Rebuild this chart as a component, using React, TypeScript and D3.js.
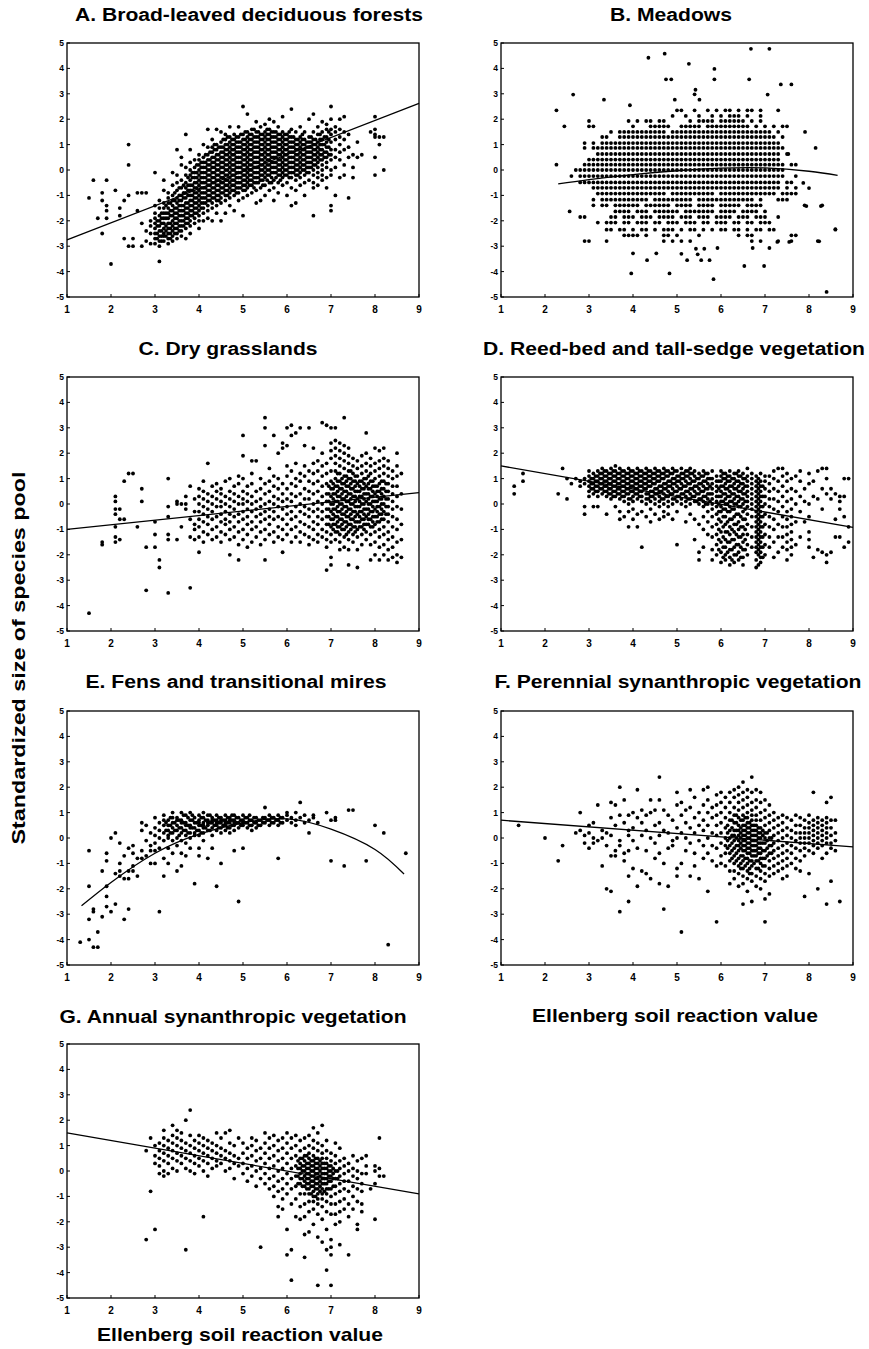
import React from 'react';
import * as d3 from 'd3';

const xTicks = [1, 2, 3, 4, 5, 6, 7, 8, 9];
const yTicks = [5, 4, 3, 2, 1, 0, -1, -2, -3, -4, -5];

// each column: first value = x * 10, the rest = y * 10
const forestCols = [
  [15, -11], [16, -4], [17, -19], [18, -25, -12, -9], [19, -4, -14, -16, -19], [20, -37], [21, -8],
  [22, -15, -18], [23, -12, -27], [24, 10, 2, -10, -30], [25, -27, -30], [26, -9, -16], [27, -30, -9, -21],
  [28, -24, -28, -9], [29, -25, -29, -22, -20],
  [30, -1, -29, -27, -25, -23, -21, -19, -17, -14],
  [31, -30, -28, -26, -24, -22, -20, -18, -15, -12, -36],
  [32, -28, -26, -25, -23, -21, -19, -17, -15, -13, -8, -4],
  [33, -29, -27, -25, -23, -21, -19, -17, -15, -13, -11, -9],
  [34, -28, -26, -24, -22, -20, -18, -16, -14, -12, -10, -6, -1],
  [35, -27, -25, -23, -21, -19, -17, -15, -13, -11, -8, -5, 8, -2],
  [36, -26, -24, -22, -20, -18, -16, -14, -12, -10, -7, -4, 5, 2],
  [37, -27, -23, -21, -19, -17, -15, -13, -11, -9, -7, -5, -2, 14, 1],
  [38, -25, -22, -20, -18, -16, -14, -12, -10, -8, -6, -4, -2, 0, 8, 3],
  [39, -21, -19, -17, -15, -13, -11, -9, -7, -5, -3, -1, 1, 4],
  [40, -23, -20, -18, -16, -14, -12, -10, -8, -6, -4, -2, 0, 2, 4, 6],
  [41, -20, -17, -15, -13, -11, -9, -7, -5, -3, -1, 1, 3, 5, 10],
  [42, -19, -16, -14, -12, -10, -8, -6, -4, -2, 0, 2, 4, 6, 16, 9],
  [43, -20, -15, -13, -11, -9, -7, -5, -3, -1, 1, 3, 5, 7, 9, 12],
  [44, -17, -14, -12, -10, -8, -6, -4, -2, 0, 2, 4, 6, 8, 10, 16],
  [45, -20, -13, -11, -9, -7, -5, -3, -1, 1, 3, 5, 7, 9, 11, 15],
  [46, -17, -12, -10, -8, -6, -4, -2, 0, 2, 4, 6, 8, 10, 12, 14],
  [47, -14, -11, -9, -7, -5, -3, -1, 1, 3, 5, 7, 9, 11, 13, 17],
  [48, -16, -10, -8, -6, -4, -2, 0, 2, 4, 6, 8, 10, 12, 14],
  [49, -12, -9, -7, -5, -3, -1, 1, 3, 5, 7, 9, 11, 13, 17],
  [50, -18, -11, -8, -6, -4, -2, 0, 2, 4, 6, 8, 10, 12, 14, 25],
  [51, -10, -7, -5, -3, -1, 1, 3, 5, 7, 9, 11, 13, 15, 22],
  [52, -9, -6, -4, -2, 0, 2, 4, 6, 8, 10, 12, 14, 16],
  [53, -13, -8, -5, -3, -1, 1, 3, 5, 7, 9, 11, 13, 15, 19],
  [54, -12, -7, -4, -2, 0, 2, 4, 6, 8, 10, 12, 14, 17],
  [55, -10, -6, -3, -1, 1, 3, 5, 7, 9, 11, 13, 15, 18],
  [56, -8, -5, -2, 0, 2, 4, 6, 8, 10, 12, 14, 16, 20],
  [57, -12, -7, -4, -1, 1, 3, 5, 7, 9, 11, 13, 15, 19],
  [58, -9, -5, -2, 0, 2, 4, 6, 8, 10, 12, 14, 17],
  [59, -6, -3, -1, 1, 3, 5, 7, 9, 11, 13, 15, 21],
  [60, -10, -5, -2, 0, 2, 4, 6, 8, 10, 12, 14],
  [61, -14, -7, -3, -1, 1, 3, 5, 7, 9, 11, 13, 16, 24],
  [62, -13, -8, -4, -2, 0, 2, 4, 6, 8, 10, 12, 15],
  [63, -6, -3, -1, 1, 3, 5, 7, 9, 11, 13, 17],
  [64, -10, -5, -2, 0, 2, 4, 6, 8, 10, 12, 15],
  [65, -4, -1, 1, 3, 5, 7, 9, 11, 13, 20],
  [66, -18, -7, -5, -2, 0, 2, 4, 6, 8, 10, 12, 15, 22],
  [67, -6, -3, -1, 1, 3, 5, 7, 9, 11, 14, 17],
  [68, -4, -2, 0, 2, 4, 6, 8, 10, 12, 15, 19],
  [69, -7, -3, 1, 3, 5, 7, 9, 11, 13, 16, 18],
  [70, -14, -16, -2, 0, 4, 6, 8, 11, 14, 16, 20, 25],
  [71, -10, 1, 5, 8, 12, 15, 17],
  [72, -3, 4, 7, 10, 13, 16, 20],
  [73, -2, 2, 8, 12, 15, 21],
  [74, -11, 5, 9, 14], [75, -3, 1, 6], [76, 11, 5], [77, 6], [79, 15],
  [80, 21, 16, 14, 13, 5, -2], [81, 10, 13], [82, 0, 13],
];

// the solid black part of the forest cloud, between the columns above
const forestCore = [
  [30.5, -27, -25, -22, -20], [31.5, -28, -26, -24, -21, -19, -17], [32.5, -26, -24, -22, -19, -17, -14],
  [33.5, -27, -25, -23, -21, -18, -16, -13], [34.5, -25, -23, -21, -19, -17, -15, -12, -9],
  [35.5, -24, -22, -20, -18, -16, -14, -12, -10, -7], [36.5, -22, -20, -18, -16, -14, -11, -9, -6],
  [37.5, -21, -19, -17, -15, -13, -10, -8, -6, -3], [38.5, -18, -16, -14, -12, -10, -8, -6, -3, -1],
  [39.5, -17, -15, -13, -11, -9, -7, -5, -3, -1, 2], [40.5, -15, -13, -11, -9, -7, -5, -3, -1, 1, 3],
  [41.5, -13, -11, -9, -7, -5, -3, -1, 1, 3, 6], [42.5, -12, -10, -8, -6, -4, -2, 0, 2, 4, 7],
  [43.5, -11, -9, -7, -5, -3, -1, 1, 3, 5, 8, 10], [44.5, -12, -10, -8, -6, -4, -2, 0, 2, 4, 6, 9],
  [45.5, -9, -7, -5, -3, -1, 1, 3, 5, 7, 9, 12], [46.5, -10, -8, -6, -4, -2, 0, 2, 4, 6, 8, 10, 13],
  [47.5, -8, -6, -4, -2, 0, 2, 4, 6, 8, 10, 12], [48.5, -9, -7, -5, -3, -1, 1, 3, 5, 7, 9, 11, 13],
  [49.5, -7, -5, -3, -1, 1, 3, 5, 7, 9, 11, 14], [50.5, -8, -6, -4, -2, 0, 2, 4, 6, 8, 10, 12, 15],
  [51.5, -6, -4, -2, 0, 2, 4, 6, 8, 10, 12, 14], [52.5, -7, -5, -3, -1, 1, 3, 5, 7, 9, 11, 13, 16],
  [53.5, -5, -3, -1, 1, 3, 5, 7, 9, 11, 13, 15], [54.5, -6, -4, -2, 0, 2, 4, 6, 8, 10, 12, 14],
  [55.5, -4, -2, 0, 2, 4, 6, 8, 10, 12, 14, 16], [56.5, -5, -3, -1, 1, 3, 5, 7, 9, 11, 13, 15],
  [57.5, -3, -1, 1, 3, 5, 7, 9, 11, 13, 15], [58.5, -4, -2, 0, 2, 4, 6, 8, 10, 12, 14],
  [59.5, -2, 0, 2, 4, 6, 8, 10, 12, 14], [60.5, -3, -1, 1, 3, 5, 7, 9, 11, 13, 15],
  [61.5, -1, 1, 3, 5, 7, 9, 11, 13], [62.5, -2, 0, 2, 4, 6, 8, 10, 12], [63.5, 0, 2, 4, 6, 8, 10, 12, 14],
  [64.5, -1, 1, 3, 5, 7, 9, 11], [65.5, 1, 3, 5, 7, 9, 11, 13], [66.5, 2, 4, 6, 8, 10, 12],
  [67.5, 4, 6, 8, 10, 12, 14], [68.5, 5, 7, 10, 13], [69.5, 6, 9, 12, 15],
];

// each row: first value = y * 100, the rest = x * 10
const meadowRows = [
  [235, 50, 51, 54, 57, 59, 61, 62, 64, 66, 67, 69, 73],
  [213, 49, 52, 55, 58, 60, 62, 63, 64, 66, 69],
  [193, 30, 39, 41, 43, 44, 46, 47, 53, 55, 56, 57, 58, 60, 61, 62, 63, 64, 65, 67, 69],
  [172, 30, 31, 40, 44, 45, 46, 47, 48, 51, 52, 53, 54, 55, 57, 58, 59, 60, 61, 62, 63, 64, 65, 66, 68, 70, 72, 74, 75],
  [150, 35, 37, 38, 39, 40, 41, 42, 43, 44, 45, 46, 47, 49, 50, 51, 52, 53, 54, 55, 56, 57, 58, 59, 60, 61, 62, 63, 64, 65, 66, 67, 68, 69, 70, 71, 73],
  [130, 33, 34, 37, 38, 39, 40, 41, 42, 43, 44, 45, 46, 47, 48, 49, 50, 51, 52, 53, 54, 55, 56, 57, 58, 59, 60, 61, 62, 63, 64, 65, 66, 67, 68, 69, 70, 71, 72, 74],
  [106, 29, 31, 33, 34, 35, 36, 37, 38, 39, 40, 41, 42, 43, 44, 45, 46, 47, 48, 49, 50, 51, 52, 53, 54, 55, 56, 57, 58, 59, 60, 61, 62, 63, 64, 65, 66, 67, 68, 69, 70, 71, 72, 73],
  [87, 29, 31, 32, 33, 34, 35, 36, 37, 38, 39, 40, 41, 42, 43, 44, 45, 46, 47, 48, 49, 50, 51, 52, 53, 54, 55, 56, 57, 58, 59, 60, 61, 62, 63, 64, 65, 66, 67, 68, 69, 70, 71, 72, 73, 74],
  [63, 32, 33, 34, 35, 36, 37, 38, 39, 40, 41, 42, 43, 44, 45, 46, 47, 48, 49, 50, 51, 52, 53, 54, 55, 56, 57, 58, 59, 60, 61, 62, 63, 64, 65, 66, 67, 68, 69, 70, 71, 72, 73, 75],
  [41, 30, 31, 32, 33, 34, 35, 36, 37, 38, 39, 40, 41, 42, 43, 44, 45, 46, 47, 48, 49, 50, 51, 52, 53, 54, 55, 56, 57, 58, 59, 60, 61, 62, 63, 64, 65, 66, 67, 68, 69, 70, 71, 72, 73],
  [21, 29, 30, 31, 32, 33, 34, 35, 36, 37, 38, 39, 40, 41, 42, 43, 44, 45, 46, 47, 48, 49, 50, 51, 52, 53, 54, 55, 56, 57, 58, 59, 60, 61, 62, 63, 64, 65, 66, 67, 68, 69, 70, 71, 72, 73, 74, 76, 77],
  [0, 27, 28, 29, 30, 31, 32, 33, 34, 35, 36, 37, 38, 39, 40, 41, 42, 43, 44, 45, 46, 47, 48, 49, 50, 51, 52, 53, 54, 55, 56, 57, 58, 59, 60, 61, 62, 63, 64, 65, 66, 67, 68, 69, 70, 71, 72, 73, 74],
  [-24, 26, 28, 29, 30, 31, 32, 33, 34, 35, 36, 37, 38, 39, 40, 41, 42, 43, 44, 45, 46, 47, 48, 49, 50, 51, 52, 53, 54, 55, 56, 57, 58, 59, 60, 61, 62, 63, 64, 65, 66, 67, 68, 69, 70, 71, 72, 73, 74, 77],
  [-49, 28, 29, 30, 31, 32, 33, 34, 35, 36, 37, 38, 39, 40, 41, 42, 43, 44, 45, 46, 47, 48, 49, 50, 51, 52, 53, 54, 55, 56, 57, 58, 59, 60, 61, 62, 63, 64, 65, 66, 67, 68, 69, 70, 71, 72, 73, 75, 76],
  [-70, 31, 32, 33, 34, 35, 36, 37, 38, 39, 40, 41, 42, 43, 44, 45, 46, 47, 48, 49, 50, 51, 52, 53, 54, 55, 56, 57, 58, 59, 60, 61, 62, 63, 64, 65, 66, 67, 68, 69, 70, 71, 72, 73, 75, 77],
  [-93, 32, 33, 34, 35, 36, 37, 38, 39, 40, 41, 42, 43, 44, 45, 46, 47, 49, 50, 51, 52, 53, 54, 55, 56, 57, 58, 60, 61, 62, 63, 64, 65, 66, 67, 68, 69, 70, 71, 72, 74, 75, 76, 77],
  [-117, 31, 33, 34, 35, 36, 37, 38, 39, 40, 41, 42, 43, 45, 46, 47, 48, 49, 50, 51, 52, 53, 55, 56, 57, 58, 59, 60, 61, 62, 63, 64, 65, 66, 67, 69, 73, 74, 75],
  [-139, 31, 33, 34, 36, 37, 38, 39, 40, 41, 43, 44, 45, 46, 47, 48, 50, 51, 52, 53, 55, 56, 57, 58, 60, 61, 62, 63, 64, 66, 67, 68, 69, 79, 83],
  [-163, 36, 37, 38, 39, 41, 42, 43, 45, 46, 47, 48, 49, 50, 52, 53, 54, 55, 56, 57, 58, 60, 61, 62, 63, 65, 66, 67, 68, 70],
  [-185, 28, 29, 35, 36, 38, 39, 40, 42, 43, 44, 46, 47, 48, 49, 51, 52, 53, 55, 56, 57, 59, 60, 61, 62, 64, 65, 66, 68, 69, 70, 73],
  [-207, 32, 34, 35, 36, 38, 39, 41, 42, 43, 45, 46, 48, 49, 50, 52, 53, 54, 56, 57, 59, 60, 61, 63, 64, 66, 67, 69, 70, 71],
  [-235, 34, 35, 37, 38, 40, 42, 43, 45, 47, 48, 49, 51, 53, 54, 56, 58, 60, 61, 63, 64, 66, 68, 69, 71, 72, 86],
  [-257, 38, 39, 40, 41, 43, 47, 48, 50, 55, 64, 66, 67, 76, 77],
  [-280, 29, 30, 34, 47, 49, 51, 53, 67, 69, 73, 76, 82],
];

const meadowExtra = [
  [2.26, 2.35], [2.44, 1.72], [2.64, 2.97], [3.34, 2.77], [3.93, 2.55], [2.26, 0.21], [2.56, -1.63],
  [4.35, 4.42], [4.72, 4.58], [4.75, 3.57], [4.87, 3.57], [4.95, 2.77], [5.27, 4.18], [5.42, 3.16],
  [5.4, 2.98], [5.51, 2.77], [5.85, 3.98], [5.85, 3.57], [6.68, 4.77], [7.1, 4.77], [6.64, 3.57],
  [7.06, 2.97], [7.36, 3.37], [7.6, 3.37], [7.91, 1.5], [8.15, 0.87], [7.53, 0.63], [7.87, -0.51],
  [8.0, -0.71], [7.94, -1.42], [8.27, -1.42], [8.23, -2.81], [8.6, -2.33], [8.4, -4.8], [4.0, -3.28],
  [3.96, -4.07], [4.32, -3.55], [4.53, -3.28], [4.83, -4.07], [5.1, -3.3], [5.23, -3.55], [5.43, -3.1],
  [5.47, -3.32], [5.62, -3.1], [5.55, -3.55], [5.74, -3.55], [5.92, -3.07], [5.83, -4.3], [6.53, -3.78],
  [6.72, -3.07], [6.98, -3.78], [7.1, -3.07], [7.28, -2.83], [7.55, -2.83],
];

const dryCols = [
  [15, -43], [18, -16, -15], [21, 3, 1, -2, -4, -13, -15, -9], [22, -14, -2, -6], [23, -6, 9], [24, 12], [25, 12],
  [26, -9], [27, 1, 6], [28, -17, -34], [30, -17, -12, -7], [31, -22, -25], [33, -35, -12, -14, -1, 10, -5],
  [35, 1, 0, -14], [36, 0, -9], [37, 0, 3, -2], [38, -33, 7, -13, -6], [39, 2, -3, -8, -14, -10],
  [40, -19, -13, -9, -6, -3, 0, 3, 6], [41, -15, -11, -7, -4, -1, 2, 5, 9], [42, -12, -8, -5, -2, 1, 4, 16],
  [43, -14, -10, -6, -3, 0, 3, 7], [44, -13, -9, -5, -1, 2, 5, 8], [45, -15, -11, -7, -4, -1, 1, 4, 6],
  [46, -12, -8, -6, -3, 0, 3, 9], [47, -20, -14, -10, -7, -4, -1, 2, 5, 10], [48, -13, -9, -5, -2, 1, 4, 7],
  [49, -22, -16, -11, -7, -4, 0, 3, 8, 11], [50, -14, -10, -6, -3, 0, 2, 5, 10, 19, 27],
  [51, -17, -12, -8, -5, -2, 1, 4, 7], [52, -15, -10, -7, -3, 0, 3, 8, 12, 17], [53, -13, -9, -5, -2, 1, 5, 17],
  [54, -16, -11, -7, -4, -1, 2, 6, 10], [55, -22, -14, -10, -6, -3, 0, 4, 8, 23, 34, 30],
  [56, -12, -8, -5, -2, 1, 5, 9, 14], [57, -15, -11, -6, -3, 0, 3, 7, 11, 27], [58, -13, -9, -5, -1, 2, 6, 10, 20],
  [59, -19, -14, -10, -6, -2, 1, 4, 8, 24, 22], [60, -12, -8, -4, -1, 2, 6, 11, 15, 30, 23],
  [61, -15, -10, -6, -3, 1, 4, 8, 13, 31, 27], [62, -13, -9, -5, -1, 3, 7, 10, 16, 28],
  [63, -15, -11, -7, -3, 0, 4, 9, 12, 30], [64, -12, -8, -4, -1, 2, 6, 11, 15, 23],
  [65, -16, -13, -9, -5, -2, 2, 5, 9, 13, 30], [66, -14, -10, -7, -3, 0, 4, 8, 12, 16, 22],
  [67, -15, -12, -8, -5, -2, 1, 5, 9, 13, 17], [68, -13, -10, -6, -3, 0, 3, 7, 11, 15, 20, 32],
  [69, -26, -17, -14, -11, -8, -5, -2, 1, 4, 8, 12, 16, 31],
  [70, -24, -21, -15, -12, -9, -6, -3, 0, 3, 6, 9, 13, 18, 21, 24, 30],
  [71, -14, -11, -8, -5, -2, 1, 4, 7, 10, 13, 16, 19, 22, 25, 30],
  [72, -18, -15, -12, -9, -6, -3, 0, 3, 6, 9, 12, 15, 18, 21, 24],
  [73, -17, -13, -10, -7, -4, -1, 2, 5, 8, 11, 14, 17, 20, 23, 34],
  [74, -24, -18, -14, -11, -8, -5, -2, 1, 4, 7, 10, 13, 16, 19, 22],
  [75, -15, -12, -9, -6, -3, 0, 3, 6, 9, 12, 15, 18], [76, -25, -18, -13, -10, -7, -4, -1, 2, 5, 8, 11, 14, 17],
  [77, -16, -12, -9, -6, -3, 0, 3, 6, 9, 12, 15, 19], [78, -14, -11, -8, -5, -2, 1, 4, 7, 10, 13, 16, 20, 28],
  [79, -22, -16, -12, -9, -6, -3, 0, 3, 6, 9, 12, 15, 18], [80, -20, -15, -11, -8, -5, -2, 1, 4, 7, 10, 13, 16, 22],
  [81, -22, -17, -13, -10, -7, -4, -1, 2, 5, 8, 11, 14, 17, 21],
  [82, -20, -16, -12, -9, -6, -3, 0, 3, 6, 9, 12, 15, 18, 22],
  [83, -22, -18, -14, -11, -7, -4, -1, 2, 5, 8, 11, 14, 17], [84, -21, -17, -13, -9, -5, -2, 1, 4, 7, 10, 13],
  [85, -23, -20, -15, -10, -6, -1, 3, 7, 11, 15, 20], [86, -21, -14, -8, -2, 4, 12],
];

const dryCore = [
  [69.5, -8, -5, -2, 1, 4, 7], [70.5, -10, -8, -6, -4, -2, 0, 2, 4, 6, 8],
  [71.5, -11, -9, -7, -5, -3, -1, 1, 3, 5, 7, 9, 12], [72.5, -10, -8, -6, -4, -2, 0, 2, 4, 6, 8, 10],
  [73.5, -12, -9, -7, -5, -3, -1, 1, 3, 5, 7, 9, 11], [74.5, -10, -8, -6, -4, -2, 0, 2, 4, 6, 8, 10, 13],
  [75.5, -11, -9, -7, -5, -3, -1, 1, 3, 5, 7, 9, 11], [76.5, -9, -7, -5, -3, -1, 1, 3, 5, 7, 9],
  [77.5, -10, -8, -6, -4, -2, 0, 2, 4, 6, 8, 10], [78.5, -8, -6, -4, -2, 0, 2, 4, 6, 8, 11],
  [79.5, -9, -7, -5, -3, -1, 1, 3, 5, 7, 9], [80.5, -7, -5, -3, -1, 1, 3, 5, 7],
  [81.5, -6, -4, -2, 0, 2, 4, 6, 9], [82.5, -4, -1, 2, 5, 8],
];

const reedCols = [
  [13, 7, 4], [15, 12, 9], [23, 4], [24, 14], [25, 2, 10], [26, 8], [27, 10], [28, 9, 7], [29, 10, 8, -1, -4],
  [30, 3, 5, 7, 9, 11, 13], [31, 4, 6, 8, 10, 12, -1], [32, 3, 5, 7, 9, 11, 13, -1], [33, 4, 6, 8, 10, 12, 14],
  [34, 3, 5, 7, 9, 11, 13, -4], [35, 2, 4, 6, 8, 10, 12, 14], [36, 3, 5, 7, 9, 11, 13, 15, -1],
  [37, 2, 4, 6, 8, 10, 12, 14, -3, -6], [38, 1, 3, 5, 7, 9, 11, 13, -5], [39, 0, 2, 4, 6, 8, 10, 12, 14, -3, -9],
  [40, 1, 3, 5, 7, 9, 11, 13, -2, -6], [41, 2, 4, 6, 8, 10, 12, 14, -9, -4], [42, 1, 3, 5, 7, 9, 11, 13, -3, -17],
  [43, 0, 2, 4, 6, 8, 10, 12, 14, -5], [44, 1, 3, 5, 7, 9, 11, 13, -2, -7], [45, 0, 2, 4, 6, 8, 10, 12, 14, -4],
  [46, 1, 3, 5, 7, 9, 11, 13, -1, -6], [47, 0, 2, 4, 6, 8, 10, 12, 14, -3, -5], [48, -1, 1, 3, 5, 7, 9, 11, 13, -4],
  [49, 0, 2, 4, 6, 8, 10, 12, 14, -6], [50, 1, 3, 5, 7, 9, 11, 13, -16, -3], [51, 0, 2, 4, 6, 8, 10, 12, 14],
  [52, -1, 1, 3, 5, 7, 9, 11, 13, -7], [53, 0, 2, 4, 6, 8, 10, 12, 14, -4], [54, 1, 3, 5, 7, 9, 11, 13, -6, -14],
  [55, 0, 2, 4, 6, 8, 10, 12, -8, -22, -19], [56, -1, 1, 3, 5, 7, 9, 11, 13, -5, -10, -17],
  [57, 0, 2, 4, 6, 8, 10, 12, -3, -7, -12],
  [58, -22, -18, -13, -9, -5, -2, 0, 2, 4, 6, 8, 10, 13],
  [59, -20, -16, -12, -8, -4, -1, 1, 3, 5, 7, 9, 11],
  [60, -23, -19, -15, -11, -7, -3, -1, 1, 3, 5, 7, 9, 11, 13],
  [61, -22, -20, -17, -14, -11, -8, -5, -2, 0, 2, 4, 6, 8, 10, 12],
  [62, -24, -21, -18, -15, -12, -9, -6, -3, -1, 1, 3, 5, 7, 9, 11, 13],
  [63, -23, -20, -17, -14, -11, -8, -5, -2, 0, 2, 4, 6, 8, 10, 12],
  [64, -22, -19, -16, -13, -10, -7, -4, -1, 1, 3, 5, 7, 9, 11, 13],
  [65, -24, -21, -18, -15, -12, -9, -6, -3, 0, 2, 4, 6, 8, 10, 12],
  [66, -20, -16, -12, -8, -4, -1, 1, 3, 5, 7, 9, 11, 14],
  [67, -17, -13, -9, -5, -2, 0, 2, 4, 6, 8, 10, 12],
  [68, -25, -22, -19, -17, -15, -13, -11, -9, -7, -5, -3, -1, 1, 3, 5, 7, 9, 11],
  [69, -23, -21, -19, -17, -15, -13, -11, -9, -7, -5, -3, -1, 1, 3, 5, 7, 9, 12],
  [70, -20, -16, -12, -8, -4, 0, 3, 6, 9, 11], [71, -17, -13, -9, -5, -1, 2, 5, 8, 11],
  [72, -21, -15, -10, -6, -2, 2, 6, 10, 13], [73, -19, -13, -8, -3, 1, 5, 9, 14],
  [74, -17, -13, -9, -5, -1, 3, 7, 11, 14], [75, -22, -18, -15, -12, -9, -6, -3, 1, 5, 9, 12],
  [76, -20, -17, -14, -11, -8, -5, -2, 2, 6, 10], [77, -16, -7, 0, 5, 11], [78, -13, -3, 3, 9, 13],
  [79, -7, 1, 6], [80, -17, -14, -11, -5, 0, 8, 12], [81, -21, 3, 9], [82, -18, 2, 13], [83, -19, -2, 6, 14],
  [84, -23, -20, 4, 10, 14], [85, -19, 2, 6], [86, -13, -6, 4], [87, -13, -2, 1, 3], [88, -17, -5, 3, 10],
  [89, -15, -9, 10],
];

const reedCore = [
  [30.5, 6, 8, 10], [31.5, 5, 7, 9, 11], [32.5, 6, 8, 10, 12], [33.5, 5, 7, 9, 11, 13], [34.5, 4, 6, 8, 10, 12],
  [35.5, 3, 5, 7, 9, 11, 13], [36.5, 4, 6, 8, 10, 12], [37.5, 3, 5, 7, 9, 11, 13], [38.5, 4, 6, 8, 10, 12],
  [39.5, 2, 5, 7, 9, 11, 13], [40.5, 4, 6, 8, 10, 12], [41.5, 3, 5, 7, 9, 11, 13], [42.5, 6, 8, 10, 12],
  [43.5, 2, 4, 7, 9, 11, 13], [44.5, 3, 5, 8, 10, 12], [45.5, 4, 6, 9, 11, 13], [46.5, 2, 5, 7, 10, 12],
  [47.5, 3, 6, 8, 11, 13], [48.5, 4, 7, 9, 12], [49.5, 2, 5, 8, 10, 13], [50.5, 3, 6, 9, 11], [51.5, 4, 7, 10, 12],
  [52.5, 2, 5, 8, 11, 13], [53.5, 3, 6, 9, 12], [54.5, 1, 4, 7, 10], [55.5, 2, 5, 8, 11], [56.5, 0, 3, 6, 9, 12],
  [57.5, 1, 4, 7, 10],
  [59.5, -18, -14, -10, -6, -3, 0, 3, 6, 9], [60.5, -21, -17, -13, -9, -5, -2, 1, 4, 7, 10, 12],
  [61.5, -19, -15, -11, -7, -3, 0, 3, 6, 9, 11], [62.5, -22, -18, -14, -10, -6, -2, 1, 4, 7, 10],
  [63.5, -20, -16, -12, -8, -4, 0, 3, 6, 9, 12], [64.5, -21, -17, -13, -9, -5, -1, 2, 5, 8, 11],
  [65.5, -18, -14, -10, -6, -2, 1, 4, 7, 10],
  [68.5, -24, -20, -18, -16, -14, -12, -10, -8, -6, -4, -2, 0, 2, 4, 6, 8, 10],
  [69.5, -21, -17, -13, -9, -5, -1, 3, 7],
];

const fenCols = [
  [13, -41], [15, -5, -19, -32, -40], [16, -28, -29, -43], [17, -37, -43], [18, -13, -31], [19, -6, -9, -19, -23, -27],
  [20, 0, -29], [21, 2, -14, -26], [22, -2, -10, -13, -15], [23, -7, -16, -32], [24, -4, -13, -16, -28],
  [25, -3, -6, -13, -11], [26, -15, -8], [27, 3, 6, -8, -5], [28, -7, -1, 5], [29, 2, -3, -10, -5],
  [30, 8, 4, 1, -2, -5, -10], [31, -29, 3, 6, 0, -4], [32, 9, 5, 2, -1, -15, -8, 7], [33, 7, 3, 0, -10, -4, 1, 5],
  [34, 10, 6, 4, 2, -1, -6, 8], [35, 8, 5, 3, 0, -3, -13, 7], [36, 10, 7, 4, 2, -1, -11, -6, 6],
  [37, 9, 6, 3, 1, -7, -2, 5], [38, 10, 7, 5, 2, 0, -4, 4], [39, 8, 6, 4, 1, -18, 2], [40, 9, 7, 5, 3, 1, -7, -4, 6],
  [41, 10, 8, 6, 4, 2, -1, 5], [42, 9, 7, 5, 3, -8, 6], [43, 8, 6, 4, 1, -4, 7], [44, 9, 7, 5, 3, -19, 6],
  [45, 8, 6, 4, 2, -10, 7], [46, 9, 7, 5, 3, 6], [47, 8, 6, 4, 2, 7], [48, 9, 7, 5, 3, -5, 6], [49, 8, 6, 4, -25],
  [50, 9, 7, 5, -4, 6], [51, 8, 6, 4], [52, 7, 5, 3], [53, 8, 6, 4], [54, 7, 5], [55, 8, 6, 12], [56, 9, 7, 5],
  [57, 8, 6], [58, 9, 7, 5, -8], [59, 8, 6], [60, 9, 7, 10], [61, 8, 6], [62, 10, 7, 5], [63, 14, 8], [64, 6, 9],
  [65, 7, 2], [66, 9, 8], [67, 6], [69, 10], [70, 7, -9], [71, 8, 7], [73, -11], [74, 11], [75, 11], [78, -9],
  [80, 5], [82, 2], [83, -42], [87, -6],
];

const fenCore = [
  [32.5, 3, 6], [33.5, 2, 5, 8], [34.5, 3, 6], [35.5, 1, 4, 7], [36.5, 3, 6, 9], [37.5, 2, 5, 8], [38.5, 4, 7, 9],
  [39.5, 3, 6], [40.5, 2, 5, 8], [41.5, 4, 7], [42.5, 3, 6, 9], [43.5, 5, 7], [44.5, 4, 6, 8], [45.5, 5, 7],
  [46.5, 4, 6, 8], [47.5, 5, 7, 9], [48.5, 6, 8], [49.5, 5, 7], [50.5, 6, 8], [51.5, 5, 7, 9], [52.5, 6, 8],
  [53.5, 7, 5], [54.5, 6, 8], [55.5, 7], [56.5, 6, 8], [57.5, 7], [58.5, 8, 6],
];

const perennialCols = [
  [14, 5], [20, 0], [23, -9], [24, -3], [27, 2], [28, 10, 3], [29, 1, -2], [30, -4, 5, 2], [31, 0, 6, -2],
  [32, 13, -1], [33, -11, 3, 0], [34, -20, 2, -3], [35, -21, 14, 8, 1, -7], [36, 13, 5, -5, -7],
  [37, 20, -29, 9, -1, -3], [38, 15, 6, -6, -9], [39, -25, -15, 9, 3, -5, 1], [40, 10, 4, -1, -12],
  [41, 19, 8, -19, -4], [42, 11, 6, 1, -13], [43, 9, 3, -5, -14], [44, 15, 10, 0, -16], [45, 11, 5, -2, -8],
  [46, 24, 15, 6, 1, -6, -18], [47, 11, 3, -28, -10], [48, 9, 2, -4, -19], [49, 7, -1, -3],
  [50, 18, 13, 4, 0, -12, -15], [51, 14, 9, 2, -37, -10], [52, 11, 6, 0, -5], [53, 19, 12, 4, -2, -15],
  [54, 16, 8, 2, -6, -11], [55, 10, 5, -1, -16], [56, 19, 13, 7, 3, -3, -8], [57, 20, 15, 10, 5, 0, -6, -21],
  [58, 12, 8, 2, -3, -9], [59, 17, 13, 9, 5, 1, -4, -11, -33], [60, 18, 14, 10, 6, 2, -2, -7, -10],
  [61, 16, 12, 8, 4, 0, -3, -6, -11], [62, 18, 14, 10, 7, 3, 0, -3, -6, -9, -13, -18],
  [63, 19, 16, 12, 9, 6, 3, 1, -1, -4, -7, -10, -13, -16],
  [64, 20, 17, 14, 11, 8, 5, 3, 1, -1, -3, -5, -8, -11, -14, -19],
  [65, 22, 18, 15, 12, 9, 7, 5, 3, 1, -1, -3, -5, -7, -9, -12, -15, -18, -26],
  [66, 19, 16, 13, 10, 8, 6, 4, 2, 0, -2, -4, -6, -8, -10, -13, -16, -21],
  [67, 24, 18, 14, 11, 9, 7, 5, 3, 1, -1, -3, -5, -7, -9, -11, -14, -17, -25],
  [68, 19, 15, 12, 9, 7, 5, 3, 1, -1, -3, -5, -7, -9, -12, -15, -19],
  [69, 18, 14, 10, 7, 4, 2, 0, -2, -4, -6, -8, -10, -13, -16, -20],
  [70, 15, 11, 8, 5, 2, 0, -2, -5, -8, -11, -14, -17, -24, -33], [71, 13, 9, 6, 3, 0, -3, -6, -9, -12, -15, -22],
  [72, 10, 7, 4, 1, -2, -5, -8, -11, -14], [73, 8, 5, 2, -1, -4, -7, -10, -13],
  [74, 9, 6, 3, 0, -3, -6, -9, -12, -16], [75, 8, 4, 1, -2, -5, -8, -11, -15], [76, 7, 3, 0, -3, -6, -10],
  [77, 9, 5, 2, -1, -4, -8, -12], [78, 8, 5, 2, 0, -2, -5, -9, -13], [79, 7, 4, 2, 0, -2, -4, -7, -23],
  [80, 9, 6, 4, 2, 0, -2, -5, -14], [81, 18, 7, 5, 3, 1, -1, -3, -6], [82, 8, 6, 4, 2, 0, -2, -4, -20],
  [83, 7, 5, 3, 1, -1, -3, -8], [84, 14, 8, 6, 4, 2, 0, -2, -6, -26], [85, 16, 7, 4, 1, -2, -4, -17],
  [86, 7, 2, -1, -5], [87, -25],
];

const perennialCore = [
  [61.5, 2, -1, -4, 5], [62.5, 4, 1, -2, -5, -8, 7], [63.5, 6, 3, 0, -3, -6, -9, 9],
  [64.5, 7, 4, 2, 0, -2, -4, -7, -10, -12], [65.5, 8, 5, 3, 1, -1, -3, -5, -8, -11],
  [66.5, 6, 4, 2, 0, -2, -4, -6, -9, -12, -14], [67.5, 5, 3, 1, -1, -3, -5, -7, -10],
  [68.5, 4, 2, 0, -2, -4, -6, -9, -12], [69.5, 3, 1, -2, -5, -8, -11], [70.5, 2, -1, -4, -7], [71.5, 0, -3, -6],
];

const annualCols = [
  [28, 8, -27], [29, -8, 13], [30, -23, 3, 6, 10], [31, 2, 5, 8, 11, -1], [32, 16, 0, 4, 7, 10, 13, -2],
  [33, 3, 6, 9, 12, -1], [34, 18, 5, 8, 11, 14, 1], [35, 4, 7, 10, 13, 16, 0], [36, 6, 9, 12, 15, 3],
  [37, 20, 5, 8, 11, -31, 1], [38, 24, 4, 7, 10, 14, 0], [39, 3, 6, 9, 12, -1], [40, 5, 8, 11, 14, 2],
  [41, -18, 4, 7, 10, 13, 0], [42, 3, 6, 9, 12, -2], [43, 5, 8, 11, 1], [44, 4, 7, 10, 15, 2], [45, 3, 6, 9, 13],
  [46, 5, 8, 15, 0], [47, 1, 4, 7, 11, 16], [48, -3, 3, 6, 10], [49, 2, 5, 13], [50, -1, 3, 7, 11],
  [51, -4, 1, 5, 9], [52, -2, 2, 6, 10, 13], [53, -6, 0, 4, 8, 12], [54, -3, 1, 5, 9, -30],
  [55, -5, -1, 3, 7, 11, 15], [56, -7, -3, 1, 5, 9, 13], [57, -10, -6, -2, 2, 6, 10, 14],
  [58, -8, -4, 0, 4, 8, 12, -18, -14], [59, -11, -7, -3, 1, 5, 9, 13, -15], [60, -9, -5, -1, 3, 7, 11, 15, -23, -33],
  [61, -13, -7, -3, 1, 5, 9, 13, -43, -31], [62, -18, -11, -6, -2, 2, 6, 10, 14],
  [63, -19, -14, -9, -5, -3, -1, 1, 3, 5, 8, 12], [64, -25, -18, -13, -9, -6, -4, -2, 0, 2, 4, 6, 9, 13, -34],
  [65, -24, -16, -12, -9, -7, -5, -3, -1, 1, 3, 5, 7, 10, 14],
  [66, -21, -15, -12, -10, -8, -6, -4, -2, 0, 2, 4, 6, 9, 12, 17],
  [67, -26, -17, -13, -11, -9, -7, -5, -3, -1, 1, 3, 5, 8, 11, 15, -45],
  [68, -28, -19, -14, -11, -9, -7, -5, -3, -1, 1, 3, 5, 7, 10, 18],
  [69, -31, -23, -16, -12, -9, -7, -5, -3, -1, 1, 3, 5, 8, 12, -39],
  [70, -30, -27, -17, -13, -10, -7, -4, -2, 0, 2, 4, 7, -33, -45], [71, -21, -17, -13, -9, -6, -3, 0, 3, 6, 11],
  [72, -29, -20, -16, -12, -8, -5, -2, 1, 4, 9], [73, -15, -11, -7, -4, -1, 2, 5], [74, -33, -18, -13, -8, -4, 0, 3],
  [75, -15, -10, -6, -2, 1, 6], [76, -21, -23, -12, -7, -3, 0, 4], [77, -13, -16, -8, -5, 5, -1], [78, -1, 6, 2],
  [79, -7], [80, -19, -5, 0, 2], [81, 13, -2, 1], [82, -2],
];

const annualCore = [
  [62.5, 1, -2, -5, 4], [63.5, 2, 0, -3, -6, 5], [64.5, 3, 1, -1, -3, -5, -7, 6], [65.5, 4, 2, 0, -2, -4, -6, -9],
  [66.5, 5, 3, 1, -1, -3, -5, -7, -10], [67.5, 4, 2, 0, -2, -4, -6, -8], [68.5, 3, 1, -1, -3, -5, -8],
  [69.5, 2, 0, -2, -4, -7], [70.5, 1, -1, -3, -6], [71.5, 0, -3],
];

// fitted curves
const fitForest = [[1, -2.75], [9, 2.62]];
const fitMeadow = [[2.3, -0.55], [3, -0.38], [4, -0.18], [5, -0.03], [6, 0.07], [7, 0.08], [8, -0.05], [8.65, -0.21]];
const fitDry = [[1, -1.0], [9, 0.45]];
const fitReed = [[1, 1.5], [9, -0.92]];
const fitFen = [[1.33, -2.67], [2, -1.75], [3, -0.6], [4, 0.15], [5, 0.6], [6, 0.75], [7, 0.35], [8, -0.45], [8.66, -1.42]];
const fitPerennial = [[1, 0.7], [9, -0.35]];
const fitAnnual = [[1, 1.5], [9, -0.9]];

const colsToPoints = (cols) => cols.flatMap(c => c.slice(1).map(v => [c[0] / 10, v / 10]));
const rowsToPoints = (rows) => rows.flatMap(r => r.slice(1).map(v => [v / 10, r[0] / 100]));

const LEFT = [67, 501];
const TOPS = [43, 377, 711, 1044];
const W = 352, H = 254;
const TITLE_BASE = [21, 355, 688, 1023];

const panels = [
  { title: 'A. Broad-leaved deciduous forests', col: 0, row: 0, cx: 249, tw: 348,
    pts: colsToPoints(forestCols).concat(colsToPoints(forestCore)), fit: fitForest },
  { title: 'B. Meadows', col: 1, row: 0, cx: 671, tw: 122,
    pts: rowsToPoints(meadowRows).concat(meadowExtra), fit: fitMeadow, curved: true },
  { title: 'C. Dry grasslands', col: 0, row: 1, cx: 228, tw: 179,
    pts: colsToPoints(dryCols).concat(colsToPoints(dryCore)), fit: fitDry },
  { title: 'D. Reed-bed and tall-sedge vegetation', col: 1, row: 1, cx: 674, tw: 382,
    pts: colsToPoints(reedCols).concat(colsToPoints(reedCore)), fit: fitReed },
  { title: 'E. Fens and transitional mires', col: 0, row: 2, cx: 236, tw: 301,
    pts: colsToPoints(fenCols).concat(colsToPoints(fenCore)), fit: fitFen, curved: true },
  { title: 'F. Perennial synanthropic vegetation', col: 1, row: 2, cx: 678, tw: 367,
    pts: colsToPoints(perennialCols).concat(colsToPoints(perennialCore)), fit: fitPerennial },
  { title: 'G. Annual synanthropic vegetation', col: 0, row: 3, cx: 233, tw: 347,
    pts: colsToPoints(annualCols).concat(colsToPoints(annualCore)), fit: fitAnnual },
];

function Panel({ p }) {
  const x0 = LEFT[p.col];
  const y0 = TOPS[p.row];
  const x = d3.scaleLinear().domain([1, 9]).range([x0, x0 + W]);
  const y = d3.scaleLinear().domain([-5, 5]).range([y0 + H, y0]);
  const line = d3.line()
    .x(d => x(d[0]))
    .y(d => y(d[1]))
    .curve(p.curved ? d3.curveNatural : d3.curveLinear);

  return (
    <g>
      <text x={p.cx} y={TITLE_BASE[p.row]} textAnchor="middle" fontWeight="bold" fontSize={17.5}
        textLength={p.tw} lengthAdjust="spacingAndGlyphs">{p.title}</text>
      <rect x={x0} y={y0} width={W} height={H} fill="none" stroke="#000" strokeWidth={1.3} />
      {xTicks.map(t => (
        <g key={'x' + t}>
          <line x1={x(t)} x2={x(t)} y1={y0 + H} y2={y0 + H - 3} stroke="#000" strokeWidth={1} />
          <text x={x(t)} y={y0 + H + 16} textAnchor="middle" fontWeight="bold" fontSize={10}>{t}</text>
        </g>
      ))}
      {yTicks.map(t => (
        <g key={'y' + t}>
          <line x1={x0} x2={x0 + 3} y1={y(t)} y2={y(t)} stroke="#000" strokeWidth={1} />
          <text x={x0 - 3} y={y(t) + 3} textAnchor="end" fontWeight="bold" fontSize={8.5}>{t}</text>
        </g>
      ))}
      <g fill="#000">
        {p.pts.map((d, i) => <circle key={i} cx={x(d[0])} cy={y(d[1])} r={1.9} />)}
      </g>
      <path d={line(p.fit)} fill="none" stroke="#000" strokeWidth={1.3} />
    </g>
  );
}

export default function App() {
  return (
    <div style={{ position: 'absolute', left: 0, top: 0 }}>
      <svg width={869} height={1349} style={{ display: 'block' }} fontFamily="'Liberation Sans', Arial, sans-serif">
        <rect width={869} height={1349} fill="#fff" />
        {panels.map(p => <Panel key={p.title} p={p} />)}
        <text transform="translate(25,658) rotate(-90)" textAnchor="middle" fontWeight="bold" fontSize={19}
          textLength={373} lengthAdjust="spacingAndGlyphs">Standardized size of species pool</text>
        <text x={240} y={1341} textAnchor="middle" fontWeight="bold" fontSize={19}
          textLength={286} lengthAdjust="spacingAndGlyphs">Ellenberg soil reaction value</text>
        <text x={675} y={1022} textAnchor="middle" fontWeight="bold" fontSize={18.5}
          textLength={286} lengthAdjust="spacingAndGlyphs">Ellenberg soil reaction value</text>
      </svg>
    </div>
  );
}
